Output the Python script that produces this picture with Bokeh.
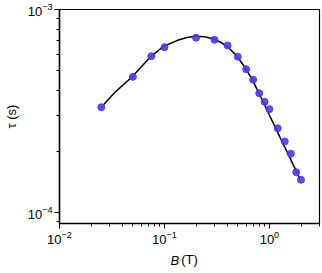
import math
from bokeh.plotting import figure
from bokeh.models import Range1d, LogTicker, FixedTicker, LogTickFormatter, Title
from bokeh.embed import file_html
from bokeh.resources import INLINE

# measured data: field B (T) and relaxation time tau (s)
B_data = [0.025, 0.05, 0.075, 0.1, 0.2, 0.3, 0.4, 0.5, 0.6, 0.7, 0.8, 0.9, 1.0,
          1.2, 1.4, 1.6, 1.8, 2.0]
tau_data = [3.30e-4, 4.66e-4, 5.89e-4, 6.52e-4, 7.26e-4, 7.09e-4, 6.65e-4, 5.85e-4,
            5.08e-4, 4.51e-4, 3.87e-4, 3.51e-4, 3.23e-4, 2.60e-4, 2.24e-4, 1.95e-4,
            1.58e-4, 1.45e-4]

# fitted curve
B_fit = [0.025, 0.0339, 0.049, 0.0734, 0.0973, 0.1315, 0.163, 0.199, 0.240, 0.291,
         0.346, 0.411, 0.489, 0.581, 0.689, 0.818, 1.015, 1.259, 1.561, 1.957]
tau_fit = [3.30e-4, 3.92e-4, 4.65e-4, 5.83e-4, 6.57e-4, 7.03e-4, 7.28e-4, 7.39e-4,
           7.35e-4, 7.17e-4, 6.88e-4, 6.46e-4, 5.90e-4, 5.21e-4, 4.50e-4, 3.75e-4,
           2.97e-4, 2.35e-4, 1.87e-4, 1.46e-4]

y_major = [1e-4, 1e-3]
y_minor = [m * 1e-5 for m in range(2, 10)] + [m * 1e-4 for m in range(2, 10)]

p = figure(width=321, height=270, x_axis_type="log", y_axis_type="log",
           x_range=Range1d(1e-2, 3.0), y_range=Range1d(0.883e-4, 1.0e-3),
           output_backend="svg", toolbar_location=None,
           min_border_left=55, min_border_right=2, min_border_top=9, min_border_bottom=47)

p.grid.visible = False
p.outline_line_color = "black"
p.outline_line_width = 1.2
p.background_fill_color = "white"
p.border_fill_color = "white"

for ax in (p.xaxis[0], p.yaxis[0]):
    ax.axis_line_width = 1.5
    ax.axis_line_color = "black"
    ax.major_tick_line_color = "black"
    ax.minor_tick_line_color = "black"
    ax.major_tick_out = 5
    ax.major_tick_in = 0
    ax.minor_tick_out = 3
    ax.minor_tick_in = 0
    ax.major_label_text_font = "Liberation Sans"
    ax.major_label_text_font_size = "13px"
    ax.major_label_text_color = "black"
    ax.major_label_standoff = 2
    ax.axis_label_text_font = "Liberation Sans"
    ax.axis_label_text_font_size = "13px"
    ax.axis_label_text_font_style = "normal"
    ax.axis_label_text_color = "black"

p.xaxis.ticker = LogTicker(num_minor_ticks=10)
p.yaxis.ticker = FixedTicker(ticks=y_major, minor_ticks=y_minor)
p.yaxis.formatter = LogTickFormatter()
p.xaxis.axis_label = "(T)"
p.yaxis.axis_label = "τ (s)"
p.xaxis.axis_label_standoff = 5
p.yaxis.axis_label_standoff = 6

# italic "B" of the x-axis title
p.add_layout(Title(text="B", align="left", offset=111, standoff=-33, vertical_align="top",
                   text_font="Liberation Sans", text_font_size="13px",
                   text_font_style="italic", text_color="black"), "below")

p.line(B_fit, tau_fit, line_color="black", line_width=1.5)
p.scatter(B_data, tau_data, size=7, fill_color="#5535f2", line_color="#5535f2",
          fill_alpha=0.9, line_alpha=0.9)

open("out.html", "w").write(file_html(p, INLINE))
